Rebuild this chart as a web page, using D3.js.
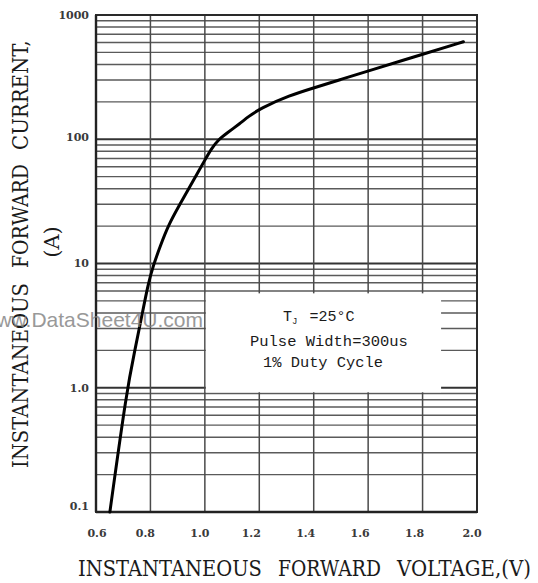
<!DOCTYPE html>
<html><head><meta charset="utf-8">
<script src="https://cdn.jsdelivr.net/npm/d3@7"></script>
<style>body{margin:0;background:#fff}svg{display:block}</style>
</head><body>
<svg id="c" width="538" height="583"></svg>
<script>
// ---- data ----
const voltage = [0.651, 0.713, 0.743, 0.769, 0.792, 0.811, 0.835, 0.866, 0.909, 0.945, 0.976, 1.000, 1.025, 1.049, 1.080, 1.129, 1.160, 1.203, 1.313, 1.400, 1.500, 1.600, 1.800, 1.950];
const current = [0.1, 0.96, 2.01, 3.85, 6.93, 9.7, 13.6, 20.4, 30.1, 41.7, 54.7, 68, 84.6, 98.6, 111.6, 134, 152, 177, 226, 259, 303, 354, 483, 609];
const xTicks = [0.6, 0.8, 1.0, 1.2, 1.4, 1.6, 1.8, 2.0];
const xTickLabels = ["0.6", "0.8", "1.0", "1.2", "1.4", "1.6", "1.8", "2.0"];
const yTicks = [0.1, 1, 10, 100, 1000];
const yTickLabels = ["0.1", "1.0", "10", "100", "1000"];
const xTitleWords = ["INSTANTANEOUS", "FORWARD", "VOLTAGE,(V)"];
const yTitleWords = ["INSTANTANEOUS", "FORWARD", "CURRENT,"];
const yTitleLine2 = "(A)";
const noteLines = ["=25°C", "Pulse Width=300us", "1% Duty Cycle"];
const watermark = "www.DataSheet4U.com";

// ---- layout ----
const svg = d3.select("#c");
const L = 96, R = 477, T = 15, B = 512;
const x = d3.scaleLinear().domain([0.6, 2.0]).range([L, R]);
const y = d3.scaleLog().domain([0.1, 1000]).range([B, T]);

// squeeze a text horizontally (in its own frame) to a target length
function placeFit(g, text, len, tx, ty, rot, attrs) {
  const t = g.append("text").text(text);
  Object.entries(attrs).forEach(([k, v]) => t.attr(k, v));
  const nat = t.node().getComputedTextLength();
  const sx = len / nat;
  t.attr("transform", `translate(${tx},${ty}) rotate(${rot}) scale(${sx},1)`);
  return t;
}

const grid = svg.append("g");
const hTicks = y.ticks();
grid.selectAll("line.h").data(hTicks).join("line")
  .attr("x1", L).attr("x2", R)
  .attr("y1", d => y(d)).attr("y2", d => y(d))
  .attr("stroke", d => yTicks.includes(d) ? "#333" : "#5a5a5a")
  .attr("stroke-width", d => yTicks.includes(d) ? 2 : 1.4);
grid.selectAll("line.v").data(xTicks).join("line")
  .attr("x1", d => x(d)).attr("x2", d => x(d))
  .attr("y1", T).attr("y2", B)
  .attr("stroke", "#4a4a4a").attr("stroke-width", 1.5);

// frame
svg.append("rect").attr("x", L).attr("y", T).attr("width", R - L).attr("height", B - T)
  .attr("fill", "none").attr("stroke", "#2a2a2a").attr("stroke-width", 2);
svg.append("line").attr("x1", L).attr("x2", R).attr("y1", B).attr("y2", B)
  .attr("stroke", "#222").attr("stroke-width", 2.6);
svg.append("line").attr("x1", L).attr("x2", L).attr("y1", T).attr("y2", B)
  .attr("stroke", "#222").attr("stroke-width", 2.4);

// note box (white, hides grid)
const bx0 = x(1.0) + 1, bx1 = x(1.868), by0 = y(5.75), by1 = y(0.92);
svg.append("rect").attr("x", bx0).attr("y", by0).attr("width", bx1 - bx0).attr("height", by1 - by0)
  .attr("fill", "#fff");

const noteFont = "'Liberation Mono', 'DejaVu Sans Mono', monospace";
const noteAttrs = {"font-family": noteFont, "font-size": 15, "fill": "#1a1a1a"};
const n1 = svg.append("text").attr("x", 283).attr("y", 321)
  .attr("font-family", noteFont).attr("font-size", 15).attr("fill", "#1a1a1a");
n1.append("tspan").text("T");
n1.append("tspan").attr("font-size", 9).attr("dy", 3).text("J");
n1.append("tspan").attr("dy", -3).attr("dx", 3).text(" " + noteLines[0]);
placeFit(svg, noteLines[1], 158, 250, 345.5, 0, noteAttrs);
placeFit(svg, noteLines[2], 120, 263, 366.5, 0, noteAttrs);

// curve
const pts = voltage.map((v, i) => [v, current[i]]);
svg.append("path").datum(pts)
  .attr("fill", "none").attr("stroke", "#000").attr("stroke-width", 3)
  .attr("stroke-linecap", "round")
  .attr("d", d3.line().x(d => x(d[0])).y(d => y(d[1])).curve(d3.curveBasis));

// tick labels
const tickFont = "'DejaVu Serif', serif";
svg.selectAll("text.xt").data(xTicks).join("text")
  .attr("x", (d, i) => x(d) + (i === 0 ? 1 : (i >= 3 && i <= 6 ? -8 : -5)))
  .attr("y", 537).attr("text-anchor", "middle")
  .attr("font-family", tickFont).attr("font-weight", "bold").attr("font-size", 11)
  .attr("fill", "#3a3a3a").text((d, i) => xTickLabels[i]);
svg.selectAll("text.yt").data(yTicks).join("text")
  .attr("x", 89).attr("y", (d, i) => y(d) + (i === 0 ? -6 : (i === 3 ? -2 : 0)))
  .attr("dy", "0.36em").attr("text-anchor", "end")
  .attr("font-family", tickFont).attr("font-weight", "bold").attr("font-size", 11)
  .attr("fill", "#3a3a3a").text((d, i) => yTickLabels[i]);

// axis titles
const titleAttrs = {"font-family": "'DejaVu Serif', serif", "font-size": 22, "fill": "#1a1a1a"};
const xWordPos = [[78, 184], [278, 103], [397, 134]];
xTitleWords.forEach((w, i) => placeFit(svg, w, xWordPos[i][1], xWordPos[i][0], 576, 0, titleAttrs));
const yWordPos = [[468, 185], [268, 104], [150, 110]];
yTitleWords.forEach((w, i) => placeFit(svg, w, yWordPos[i][1], 28, yWordPos[i][0], -90, titleAttrs));
svg.append("text").attr("transform", "translate(59,242) rotate(-90)")
  .attr("text-anchor", "middle")
  .attr("font-family", "'DejaVu Serif', serif").attr("font-size", 21).attr("fill", "#1a1a1a").text(yTitleLine2);

// watermark (partly cut by the left edge, as in the reference)
svg.append("text").attr("x", 203).attr("y", 327).attr("text-anchor", "end")
  .attr("font-family", "'Liberation Sans', Arial, sans-serif").attr("font-size", 21)
  .attr("fill", "#808080").attr("opacity", 0.8).text(watermark);
</script>
</body></html>
